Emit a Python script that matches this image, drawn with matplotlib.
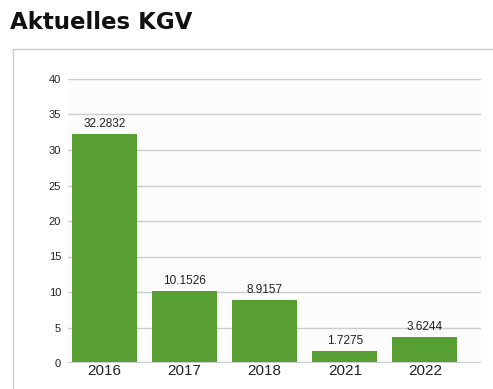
import matplotlib
matplotlib.use("Agg")
import matplotlib.pyplot as plt
from matplotlib.lines import Line2D

years = ["2016", "2017", "2018", "2021", "2022"]
kgv = [32.2832, 10.1526, 8.9157, 1.7275, 3.6244]
value_labels = ["32.2832", "10.1526", "8.9157", "1.7275", "3.6244"]
y_ticks = [0, 5, 10, 15, 20, 25, 30, 35, 40]

W, H = 493, 389
fig = plt.figure(figsize=(W / 100, H / 100), dpi=100)
fig.patch.set_facecolor("white")

# title
fig.text(10 / W, 1 - 29 / H, "Aktuelles KGV", fontsize=16.5, fontweight="bold",
         family=["DejaVu Sans"], color="#111111", ha="left", va="baseline")

# panel frame (left and top edges)
frame_col = "#cbcbcb"
fig.add_artist(Line2D([12.5 / W, 12.5 / W], [0, 1 - 48.5 / H], transform=fig.transFigure,
                      color=frame_col, lw=1.0))
fig.add_artist(Line2D([12.5 / W, 1], [1 - 48.5 / H, 1 - 48.5 / H], transform=fig.transFigure,
                      color=frame_col, lw=1.0))

ax = fig.add_axes([68 / W, 26 / H, (481 - 68) / W, (363 - 79) / H])
ax.set_facecolor("#fcfcfc")
x = list(range(len(years)))
bars = ax.bar(x, kgv, width=0.81, color="#579e33", zorder=3)
ax.set_xlim(-0.455, 4.70)
ax.set_ylim(0, 40)
ax.set_yticks(y_ticks)
ax.set_yticklabels([str(t) for t in y_ticks], fontsize=8, family="Liberation Sans", color="#222222")
ax.set_xticks(x)
ax.set_xticklabels(years, fontsize=11, family="Liberation Sans", color="#222222")
ax.tick_params(axis="both", length=0)
ax.tick_params(axis="y", pad=5)
ax.tick_params(axis="x", pad=1)
for s in ax.spines.values():
    s.set_visible(False)
ax.grid(axis="y", color="#cccccc", lw=1, zorder=1)
ax.axhline(0, color="#cccccc", lw=1.5, zorder=4)

for b, lab in zip(bars, value_labels):
    ax.annotate(lab, (b.get_x() + b.get_width() / 2, b.get_height()),
                xytext=(0, 3), textcoords="offset points", ha="center", va="bottom",
                fontsize=8.5, family="Liberation Sans", color="#222222", zorder=5)

fig.savefig("out.png", dpi=100)
